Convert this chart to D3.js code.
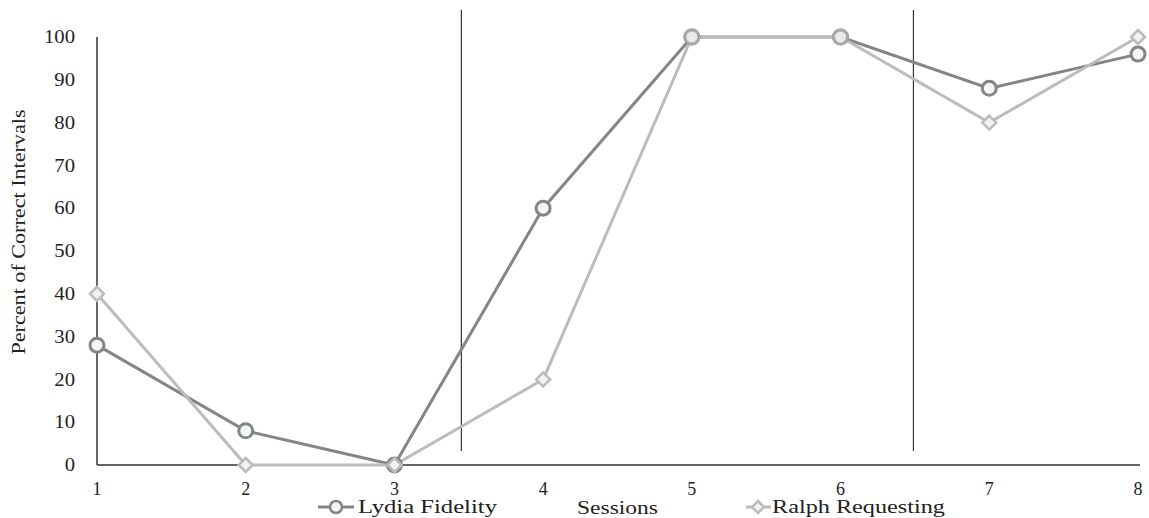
<!DOCTYPE html>
<html><head><meta charset="utf-8">
<script src="https://cdn.jsdelivr.net/npm/d3@7"></script>
<style>body{margin:0;background:#fff}svg{display:block}</style>
</head><body><svg id="c" width="1149" height="518"></svg>
<script>
const sessions = [1,2,3,4,5,6,7,8];
const lydia = [28,8,0,60,100,100,88,96];
const ralph = [40,0,0,20,100,100,80,100];
const yTicks = [0,10,20,30,40,50,60,70,80,90,100];
const phaseBreaks = [3.45,6.49];
const seriesNames = ["Lydia Fidelity","Ralph Requesting"];
const FONT = "'Liberation Serif','DejaVu Serif','Times New Roman',serif";

const svg = d3.select("#c").attr("font-family", FONT);
const x = d3.scaleLinear().domain([1,8]).range([97,1138]);
const y = d3.scaleLinear().domain([0,100]).range([465,37]);

// axes
svg.append("line").attr("x1",x(1)).attr("x2",1140).attr("y1",y(0)).attr("y2",y(0)).attr("stroke","#333").attr("stroke-width",1.5);
svg.append("line").attr("x1",x(1)).attr("x2",x(1)).attr("y1",y(0)).attr("y2",y(100)).attr("stroke","#333").attr("stroke-width",1.5);

svg.selectAll(".yt").data(yTicks).join("text").attr("x",75).attr("y",d=>y(d)).attr("dy","0.35em")
  .attr("text-anchor","end").attr("font-size",18).attr("fill","#222")
  .attr("transform",d=>`translate(75,0) scale(1.15,1) translate(-75,0)`).text(d=>d);
svg.selectAll(".xt").data(sessions).join("text").attr("x",d=>x(d)).attr("y",495)
  .attr("text-anchor","middle").attr("font-size",18).attr("fill","#222").text(d=>d);

svg.append("text").attr("transform","translate(25,232) rotate(-90)").attr("text-anchor","middle")
  .attr("font-size",18).attr("fill","#222").attr("textLength",245).attr("lengthAdjust","spacingAndGlyphs")
  .text("Percent of Correct Intervals");
svg.append("text").attr("x",577).attr("y",514).attr("font-size",18).attr("fill","#222")
  .attr("textLength",81).attr("lengthAdjust","spacingAndGlyphs").text("Sessions");

// phase lines
svg.selectAll(".ph").data(phaseBreaks).join("line").attr("x1",d=>x(d)).attr("x2",d=>x(d))
  .attr("y1",10).attr("y2",451).attr("stroke","#333").attr("stroke-width",1.2);

const line = d3.line().x((d,i)=>x(sessions[i])).y(d=>y(d));
const lc = "#858585", rc = "#bcbcbc";

function diamond(g, cx, cy, s, col){
  g.append("path").attr("d",`M${cx},${cy-s}L${cx+s},${cy}L${cx},${cy+s}L${cx-s},${cy}Z`)
   .attr("fill","#f2f2f2").attr("stroke",col).attr("stroke-width",2.5);
}

svg.append("path").datum(lydia).attr("d",line).attr("fill","none").attr("stroke",lc).attr("stroke-width",3);
svg.append("path").datum(ralph).attr("d",line).attr("fill","none").attr("stroke",rc).attr("stroke-width",3);

const gL = svg.append("g");
lydia.forEach((v,i)=>{ gL.append("circle").attr("cx",x(sessions[i])).attr("cy",y(v)).attr("r",7)
  .attr("fill","#f1f7f7").attr("stroke",lc).attr("stroke-width",3); });
const gR = svg.append("g");
ralph.forEach((v,i)=>{ if(v===100 && lydia[i]===100) return; diamond(gR, x(sessions[i]), y(v), 7, rc); });
sessions.forEach((s,i)=>{ if(ralph[i]===100 && lydia[i]===100){
  gR.append("circle").attr("cx",x(s)).attr("cy",y(100)).attr("r",7).attr("fill","#eaeaea").attr("stroke","#a8a8a8").attr("stroke-width",3);
}});

// legend
const lg = svg.append("g");
lg.append("line").attr("x1",318).attr("x2",354).attr("y1",507).attr("y2",507).attr("stroke",lc).attr("stroke-width",3);
lg.append("circle").attr("cx",336).attr("cy",507).attr("r",6).attr("fill","#f1f7f7").attr("stroke",lc).attr("stroke-width",2.5);
lg.append("text").attr("x",358).attr("y",513).attr("font-size",18).attr("fill","#222")
  .attr("textLength",139).attr("lengthAdjust","spacingAndGlyphs").text(seriesNames[0]);
lg.append("line").attr("x1",746).attr("x2",771).attr("y1",507).attr("y2",507).attr("stroke",rc).attr("stroke-width",3);
diamond(lg,758,507,6,rc);
lg.append("text").attr("x",772).attr("y",513).attr("font-size",18).attr("fill","#222")
  .attr("textLength",173).attr("lengthAdjust","spacingAndGlyphs").text(seriesNames[1]);
</script></body></html>
